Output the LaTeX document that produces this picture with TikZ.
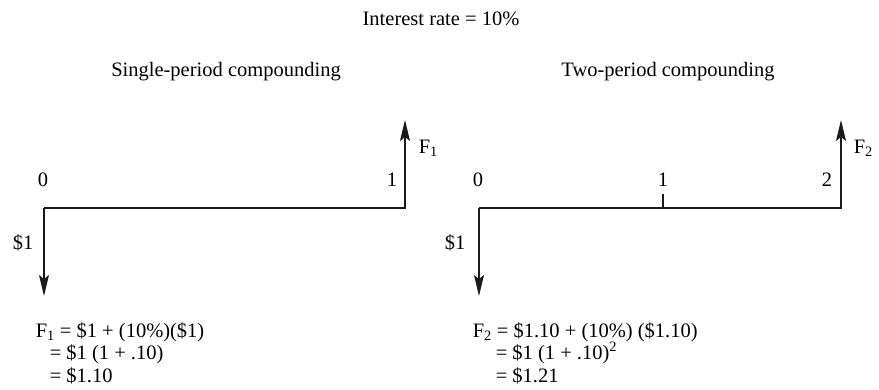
\documentclass[tikz,border=0pt]{standalone}
\usepackage{fontspec}
\setmainfont{Liberation Serif}
\usetikzlibrary{arrows.meta, positioning}
\definecolor{cline}{HTML}{1A1A1A}
\tikzset{
  every picture/.style={line width=1.5pt},
  lbl/.style={inner sep=0pt, anchor=base, font=\fontsize{20.5}{24}\selectfont},
  eqn/.style={lbl, anchor=base west},
  axis/.style={draw=cline, line width=1.5pt},
  flow/.style={axis, -{Stealth[length=21pt, width=10pt, inset=4pt]}},
}

\begin{document}
\begin{tikzpicture}[x=1pt, y=-1pt]
  \useasboundingbox (0,0) rectangle (879,389);

  % titles
  \node[lbl] (rate) at (441,25) {Interest rate = 10\%};
  \node[lbl] (ttlA) at (226,76) {Single-period compounding};
  \node[lbl] (ttlB) at (668,76) {Two-period compounding};

  % single period
  \coordinate (a0) at (44,208);
  \coordinate (a1) at (405,208);
  \coordinate (aF) at (405,120);
  \coordinate (aP) at (44,296);
  \draw[flow] (a0) -- (a1) -- (aF);
  \draw[flow] (a0) -- (aP);
  \node[lbl] (a0t) at (43,186) {0};
  \node[lbl] (a1t) at (392,186) {1};
  \node[lbl, anchor=base west] (aFt) at (418,153) {F\textsubscript{1}};
  \node[lbl] (aPt) at (23,249) {\$1};
  \node[eqn] (eqA1) at (35,337) {F\textsubscript{1} = \$1 + (10\%)(\$1)};
  \node[eqn] (eqA2) at (49,359.5) {= \$1 (1 + .10)};
  \node[eqn] (eqA3) at (49,382) {= \$1.10};

  % two periods
  \coordinate (b0) at (479,208);
  \coordinate (b1) at (663,208);
  \coordinate (b2) at (841,208);
  \coordinate (bF) at (841,120);
  \coordinate (bP) at (479,296);
  \coordinate (b1k) at (663,194);
  \draw[flow] (b0) -- (b2) -- (bF);
  \draw[flow] (b0) -- (bP);
  \draw[axis] (b1) -- (b1k);
  \node[lbl] (b0t) at (478,186) {0};
  \node[lbl] (b1t) at (663,186) {1};
  \node[lbl] (b2t) at (827,186) {2};
  \node[lbl, anchor=base west] (bFt) at (853,153) {F\textsubscript{2}};
  \node[lbl] (bPt) at (455,249) {\$1};
  \node[eqn] (eqB1) at (472,337) {F\textsubscript{2} = \$1.10 + (10\%) (\$1.10)};
  \node[eqn] (eqB2) at (495,359.5) {= \$1 (1 + .10)\textsuperscript{2}};
  \node[eqn] (eqB3) at (495,382) {= \$1.21};
\end{tikzpicture}
\end{document}
